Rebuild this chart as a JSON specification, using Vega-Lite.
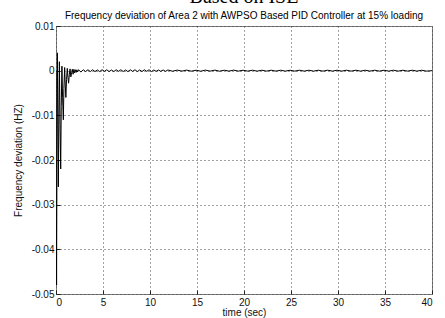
{
  "$schema": "https://vega.github.io/schema/vega-lite/v6.json",
  "width": 376,
  "height": 268,
  "autosize": {"type": "none"},
  "padding": {"left": 56, "top": 26, "right": 13, "bottom": 24},
  "background": "white",
  "title": {
    "text": "Based on ISE",
    "subtitle": "Frequency deviation of Area 2 with AWPSO Based PID Controller at 15% loading",
    "font": "Liberation Serif",
    "fontSize": 20,
    "fontWeight": "normal",
    "color": "black",
    "subtitleFont": "Liberation Sans",
    "subtitleFontSize": 10,
    "subtitleColor": "black",
    "subtitlePadding": 4,
    "offset": 0,
    "anchor": "middle",
    "frame": "group"
  },
  "config": {
    "view": {"stroke": "#7a7a7a", "strokeWidth": 1},
    "axis": {
      "labelFont": "Liberation Sans",
      "labelFontSize": 10,
      "labelColor": "#111",
      "titleFont": "Liberation Sans",
      "titleFontSize": 10,
      "titleFontWeight": "normal",
      "titleColor": "#111",
      "domain": false,
      "grid": true,
      "gridColor": "#444",
      "gridDash": [1, 3],
      "gridWidth": 1,
      "tickColor": "#222",
      "tickSize": -4,
      "labelPadding": 8
    }
  },
  "data": {
    "values": [
      {"t": 0, "v": 0},
      {"t": 0.03, "v": -0.03},
      {"t": 0.06, "v": -0.048},
      {"t": 0.1, "v": -0.02},
      {"t": 0.15, "v": 0.004},
      {"t": 0.2, "v": -0.01},
      {"t": 0.25, "v": -0.026},
      {"t": 0.3, "v": -0.012},
      {"t": 0.36, "v": 0.002},
      {"t": 0.42, "v": -0.01},
      {"t": 0.5, "v": -0.022},
      {"t": 0.56, "v": -0.008},
      {"t": 0.63, "v": 0.001},
      {"t": 0.7, "v": -0.006},
      {"t": 0.78, "v": -0.011},
      {"t": 0.84, "v": -0.004},
      {"t": 0.92, "v": 0.0007},
      {"t": 0.98, "v": -0.003},
      {"t": 1.05, "v": -0.006},
      {"t": 1.12, "v": -0.002},
      {"t": 1.2, "v": 0.0005},
      {"t": 1.27, "v": -0.0015},
      {"t": 1.34, "v": -0.0028},
      {"t": 1.42, "v": -0.0008},
      {"t": 1.5, "v": 0.0004},
      {"t": 1.58, "v": -0.0014},
      {"t": 1.66, "v": -0.0004},
      {"t": 1.74, "v": 0.0003},
      {"t": 1.82, "v": -0.0008},
      {"t": 1.9, "v": 0.0003},
      {"t": 1.98, "v": -0.0005},
      {"t": 2.06, "v": 0.0002},
      {"t": 2.14, "v": -0.0004},
      {"t": 2.22, "v": 0.0002},
      {"t": 2.3, "v": -0.0003},
      {"t": 2.4, "v": 0.0002},
      {"t": 2.65, "v": -0.0003},
      {"t": 2.9, "v": 0.0002},
      {"t": 3.15, "v": -0.0002},
      {"t": 3.4, "v": 0.0002},
      {"t": 3.65, "v": -0.0002},
      {"t": 3.9, "v": 0.0002},
      {"t": 4.15, "v": -0.0002},
      {"t": 4.4, "v": 0.00015},
      {"t": 4.65, "v": -0.0002},
      {"t": 4.9, "v": 0.0002},
      {"t": 5.15, "v": -0.00015},
      {"t": 5.4, "v": 0.0002},
      {"t": 5.65, "v": -0.0002},
      {"t": 5.9, "v": 0.00015},
      {"t": 6.15, "v": -0.0002},
      {"t": 6.4, "v": 0.0002},
      {"t": 6.65, "v": -0.00015},
      {"t": 6.9, "v": 0.0002},
      {"t": 7.15, "v": -0.0002},
      {"t": 7.4, "v": 0.00015},
      {"t": 7.65, "v": -0.0002},
      {"t": 7.9, "v": 0.0002},
      {"t": 8.15, "v": -0.00015},
      {"t": 8.4, "v": 0.0002},
      {"t": 8.65, "v": -0.0002},
      {"t": 8.9, "v": 0.00015},
      {"t": 9.15, "v": -0.0002},
      {"t": 9.4, "v": 0.0002},
      {"t": 9.65, "v": -0.00015},
      {"t": 9.9, "v": 0.0002},
      {"t": 10.15, "v": -0.0002},
      {"t": 10.4, "v": 0.00015},
      {"t": 10.65, "v": -0.00015},
      {"t": 10.9, "v": 0.00015},
      {"t": 11.15, "v": -0.00015},
      {"t": 11.4, "v": 0.00015},
      {"t": 11.65, "v": -0.00015},
      {"t": 11.9, "v": 0.00015},
      {"t": 12.4, "v": -0.00012},
      {"t": 12.9, "v": 0.00012},
      {"t": 13.4, "v": -0.0001},
      {"t": 13.9, "v": 0.00012},
      {"t": 14.4, "v": -0.00012},
      {"t": 14.9, "v": 0.0001},
      {"t": 15.4, "v": -0.00012},
      {"t": 15.9, "v": 0.00012},
      {"t": 16.4, "v": -0.0001},
      {"t": 16.9, "v": 0.00012},
      {"t": 17.4, "v": -0.00012},
      {"t": 17.9, "v": 0.0001},
      {"t": 18.4, "v": -0.0001},
      {"t": 18.9, "v": 0.00012},
      {"t": 19.4, "v": -0.0001},
      {"t": 19.9, "v": 0.0001},
      {"t": 20.4, "v": -0.0001},
      {"t": 20.9, "v": 0.0001},
      {"t": 21.4, "v": -0.0001},
      {"t": 21.9, "v": 0.0001},
      {"t": 22.4, "v": -0.0001},
      {"t": 22.9, "v": 0.0001},
      {"t": 23.4, "v": -0.0001},
      {"t": 23.9, "v": 0.0001},
      {"t": 24.4, "v": -0.0001},
      {"t": 24.9, "v": 0.0001},
      {"t": 25.4, "v": -0.0001},
      {"t": 25.9, "v": 0.0001},
      {"t": 26.4, "v": -0.0001},
      {"t": 26.9, "v": 0.0001},
      {"t": 27.4, "v": -0.0001},
      {"t": 27.9, "v": 0.0001},
      {"t": 28.4, "v": -0.0001},
      {"t": 28.9, "v": 0.0001},
      {"t": 29.4, "v": -0.0001},
      {"t": 29.9, "v": 0.0001},
      {"t": 30.4, "v": -0.0001},
      {"t": 30.9, "v": 0.0001},
      {"t": 31.4, "v": -0.0001},
      {"t": 31.9, "v": 0.0001},
      {"t": 32.4, "v": -0.0001},
      {"t": 32.9, "v": 0.0001},
      {"t": 33.4, "v": -0.0001},
      {"t": 33.9, "v": 0.0001},
      {"t": 34.4, "v": -0.0001},
      {"t": 34.9, "v": 0.0001},
      {"t": 35.4, "v": -0.0001},
      {"t": 35.9, "v": 0.0001},
      {"t": 36.4, "v": -0.0001},
      {"t": 36.9, "v": 0.0001},
      {"t": 37.4, "v": -0.0001},
      {"t": 37.9, "v": 0.0001},
      {"t": 38.4, "v": -0.0001},
      {"t": 38.9, "v": 0.0001},
      {"t": 39.4, "v": -0.0001},
      {"t": 40, "v": 0}
    ]
  },
  "mark": {"type": "line", "color": "black", "strokeWidth": 1, "clip": true},
  "encoding": {
    "x": {
      "field": "t",
      "type": "quantitative",
      "scale": {"domain": [0, 40], "nice": false, "zero": false},
      "axis": {
        "title": "time (sec)",
        "values": [0, 5, 10, 15, 20, 25, 30, 35, 40],
        "labelPadding": 7,
        "titlePadding": 0
      }
    },
    "y": {
      "field": "v",
      "type": "quantitative",
      "scale": {"domain": [-0.05, 0.01], "nice": false, "zero": false},
      "axis": {
        "title": "Frequency deviation (HZ)",
        "values": [-0.05, -0.04, -0.03, -0.02, -0.01, 0, 0.01],
        "labelExpr": "replace(format(datum.value, '.2~f'), '\u2212', '-')",
        "labelPadding": 6,
        "titlePadding": 8
      }
    }
  }
}
